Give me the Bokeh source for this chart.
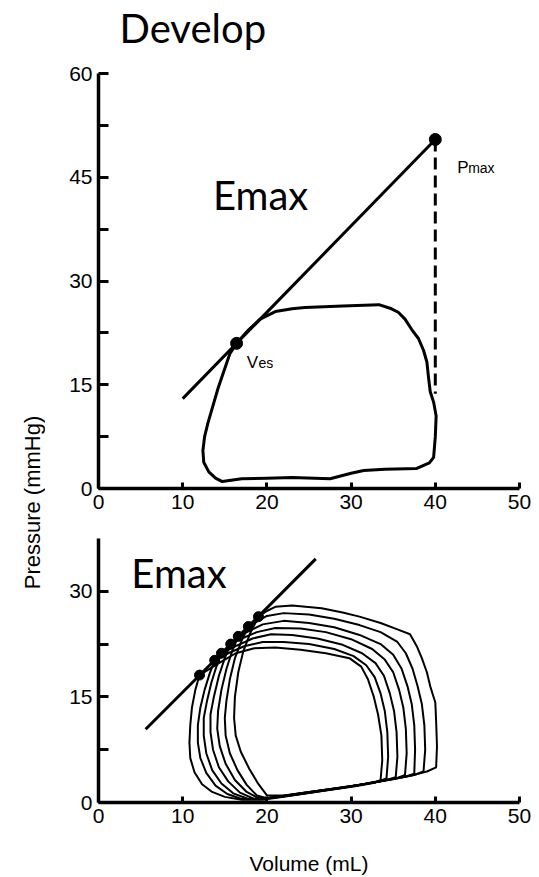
import math

from bokeh.embed import file_html
from bokeh.layouts import column, row
from bokeh.models import FixedTicker, Label, Range1d
from bokeh.plotting import figure
from bokeh.resources import INLINE

# ---------------- data ----------------
vol_ticks = [0, 10, 20, 30, 40, 50]

# Upper panel: one steady-state loop
top_p_ticks = [0, 15, 30, 45, 60]
top_p_minor = [7.5, 22.5, 37.5, 52.5]
top_loop_vol = [16.4, 15.6, 14.9, 14.2, 13.6, 13.0, 12.6, 12.4, 12.5, 13.1, 13.9, 14.7,
                17.0, 20.0, 23.0, 27.5, 30.0, 31.5, 34.0, 37.8, 39.3, 39.8, 40.0, 40.1,
                39.8, 39.4, 39.2, 39.0, 38.6, 38.0, 37.2, 36.4, 35.6, 34.8, 33.3, 29.0,
                24.5, 23.0, 21.0, 19.2, 17.7, 16.4]
top_loop_p = [21.0, 19.5, 17.0, 14.5, 12.0, 9.5, 7.5, 5.5, 3.8, 2.4, 1.5, 1.0,
              1.4, 1.5, 1.6, 1.4, 2.2, 2.6, 2.8, 2.9, 3.7, 4.5, 7.5, 10.5,
              12.5, 14.0, 16.0, 18.3, 20.0, 21.7, 23.0, 24.5, 25.5, 26.0, 26.6, 26.4,
              26.2, 26.0, 25.6, 24.5, 22.8, 21.0]
top_espvr_vol = [10.0, 40.0]
top_espvr_p = [13.0, 50.5]
ves_vol, ves_p = 16.4, 21.0
pmax_vol, pmax_p = 40.0, 50.5
pmax_drop_p = [50.5, 13.7]

# Lower panel: family of loops during preload reduction
bot_p_ticks = [0, 15, 30]
bot_p_minor = [7.5, 22.5]
bot_espvr_vol = [5.6, 25.8]
bot_espvr_p = [10.4, 34.6]
es_vol = [12.0, 13.8, 14.6, 15.7, 16.6, 17.8, 19.0]
es_p = [18.1, 20.2, 21.2, 22.5, 23.6, 25.0, 26.4]

loop1_vol = [19.0, 18.0, 17.2, 16.6, 16.2, 16.1, 16.3, 16.9, 17.9, 19.0, 20.0, 22.0, 25.0,
             29.0, 33.0, 37.0, 39.0, 40.1, 40.2, 40.1, 40.0, 39.4, 39.0, 38.4, 37.8, 37.0,
             35.5, 33.5, 31.0, 29.0, 26.5, 23.0, 21.0, 20.0, 19.0]
loop1_p = [26.4, 24.0, 21.5, 18.5, 15.0, 12.0, 9.5, 7.2, 4.8, 2.6, 1.0, 1.0, 1.5,
           2.1, 2.9, 3.8, 4.4, 5.0, 8.0, 11.5, 14.2, 16.5, 18.5, 20.5, 22.2, 23.9,
           24.6, 25.5, 26.4, 27.0, 27.6, 28.0, 27.8, 27.2, 26.4]
loop2_vol = [17.8, 17.0, 16.2, 15.6, 15.2, 15.0, 15.1, 15.6, 16.5, 17.6, 18.8, 20.0, 23.0,
             27.0, 31.0, 35.0, 37.5, 38.6, 38.8, 38.7, 38.4, 37.9, 37.3, 36.5, 35.5, 33.5,
             31.0, 28.0, 25.0, 22.0, 20.0, 18.8, 17.8]
loop2_p = [25.0, 23.0, 20.5, 17.5, 14.5, 12.0, 9.5, 7.0, 4.6, 2.5, 1.0, 0.6, 1.1,
           1.8, 2.5, 3.3, 3.9, 4.4, 7.5, 11.0, 14.0, 16.5, 19.0, 21.2, 22.8, 24.2,
           25.2, 26.1, 26.7, 26.9, 26.5, 25.7, 25.0]
loop3_vol = [16.6, 15.9, 15.2, 14.6, 14.2, 14.1, 14.4, 15.1, 16.2, 17.6, 19.0, 21.0, 25.0,
             29.0, 33.0, 36.5, 37.5, 37.6, 37.5, 37.2, 36.7, 36.0, 35.0, 33.5, 31.0, 28.0,
             25.0, 22.0, 19.5, 17.8, 16.6]
loop3_p = [23.6, 21.6, 19.0, 16.0, 13.0, 10.5, 8.0, 5.5, 3.2, 1.5, 0.6, 0.7, 1.4,
           2.1, 2.9, 3.7, 4.1, 7.5, 11.0, 14.0, 16.5, 19.0, 21.0, 22.5, 23.8, 24.9,
           25.5, 25.8, 25.3, 24.3, 23.6]
loop4_vol = [15.7, 15.0, 14.3, 13.7, 13.3, 13.3, 13.6, 14.3, 15.4, 16.8, 18.5, 21.0, 25.0,
             29.0, 33.0, 35.5, 36.4, 36.6, 36.5, 36.2, 35.7, 35.0, 34.0, 32.5, 30.0, 27.0,
             24.0, 21.0, 18.8, 17.0, 15.7]
loop4_p = [22.5, 20.5, 18.0, 15.0, 12.5, 10.0, 7.5, 5.0, 3.0, 1.4, 0.5, 0.7, 1.4,
           2.1, 2.9, 3.5, 3.9, 7.0, 10.5, 13.5, 16.0, 18.5, 20.3, 21.8, 23.2, 24.2,
           24.7, 24.8, 24.2, 23.3, 22.5]
loop5_vol = [14.6, 14.0, 13.4, 12.9, 12.5, 12.5, 12.8, 13.5, 14.6, 16.0, 17.8, 20.0, 24.0,
             28.0, 32.0, 34.5, 35.3, 35.5, 35.4, 35.1, 34.6, 33.9, 32.9, 31.3, 29.0, 26.0,
             23.0, 20.5, 18.3, 16.3, 14.6]
loop5_p = [21.2, 19.3, 17.0, 14.5, 12.0, 9.5, 7.0, 4.6, 2.7, 1.3, 0.5, 0.6, 1.3,
           2.0, 2.7, 3.3, 3.6, 6.5, 10.0, 13.0, 15.5, 18.0, 19.8, 21.2, 22.4, 23.3,
           23.8, 23.9, 23.3, 22.2, 21.2]
loop6_vol = [13.8, 13.2, 12.6, 12.1, 11.8, 11.8, 12.1, 12.8, 13.9, 15.3, 17.0, 19.5, 23.0,
             27.0, 31.0, 33.5, 34.2, 34.4, 34.3, 34.0, 33.5, 32.8, 31.8, 30.3, 28.0, 25.0,
             22.0, 19.5, 17.3, 15.4, 13.8]
loop6_p = [20.2, 18.3, 16.0, 13.5, 11.0, 8.5, 6.3, 4.2, 2.4, 1.2, 0.5, 0.5, 1.1,
           1.8, 2.5, 3.1, 3.4, 6.5, 10.0, 13.0, 15.5, 17.8, 19.5, 20.8, 21.8, 22.5,
           22.8, 22.8, 22.2, 21.2, 20.2]
loop7_vol = [12.0, 11.5, 11.1, 10.9, 10.8, 10.9, 11.4, 12.3, 13.5, 15.0, 17.0, 19.5, 23.0,
             27.0, 30.5, 32.8, 33.5, 33.7, 33.6, 33.2, 32.7, 32.0, 31.2, 29.8, 27.0, 24.0,
             21.0, 18.5, 16.3, 14.3, 12.0]
loop7_p = [18.1, 16.0, 13.5, 11.0, 8.5, 6.3, 4.3, 2.6, 1.5, 0.8, 0.4, 0.4, 1.0,
           1.7, 2.3, 2.8, 3.2, 6.0, 9.5, 12.5, 15.0, 17.5, 19.3, 20.5, 21.2, 21.7,
           22.0, 21.9, 21.2, 19.8, 18.1]

bot_loops = [(loop1_vol, loop1_p), (loop2_vol, loop2_p), (loop3_vol, loop3_p),
             (loop4_vol, loop4_p), (loop5_vol, loop5_p), (loop6_vol, loop6_p),
             (loop7_vol, loop7_p)]

# ---------------- styling helpers ----------------
TICK_FONT = "Liberation Sans"
HEAD_FONT = "Lato"
LEFT_STRIP = 45
PANEL_W = 539 - LEFT_STRIP


def style_axes(p, yticks, yminor):
    p.xaxis.ticker = FixedTicker(ticks=vol_ticks)
    p.yaxis.ticker = FixedTicker(ticks=yticks, minor_ticks=yminor)
    for ax in (p.xaxis[0], p.yaxis[0]):
        ax.axis_line_width = 3.5
        ax.axis_line_color = "black"
        ax.major_tick_line_width = 3
        ax.minor_tick_line_width = 3
        ax.major_tick_out = 0
        ax.minor_tick_out = 0
        ax.major_label_text_font = TICK_FONT
        ax.major_label_text_font_size = "21px"
        ax.major_label_text_color = "black"
        ax.major_label_standoff = 6
    p.xaxis.major_tick_in = 6
    p.xaxis.minor_tick_in = 0
    p.yaxis.major_tick_in = 10
    p.yaxis.minor_tick_in = 10
    p.grid.visible = False
    p.outline_line_color = None


def note(p, x, y, text, size, font=TICK_FONT):
    # y is the bottom of the text box
    p.add_layout(Label(x=x, y=y, text=text, text_font=font, text_font_size=size,
                       text_color="black", text_baseline="bottom"))


# ---------------- upper panel ----------------
# The frame runs up to the top of the canvas so the heading sits inside it;
# the pressure axis itself is bounded to 0-60.
TOP_H, TOP_BOTTOM = 520, 32
top_frame_h = TOP_H - TOP_BOTTOM
top_y_end = 60 * top_frame_h / (top_frame_h - 73.3)
top = figure(width=PANEL_W, height=TOP_H, x_range=Range1d(0, 50),
             y_range=Range1d(0, top_y_end),
             output_backend="svg", toolbar_location=None,
             min_border_left=53, min_border_right=20, min_border_top=0,
             min_border_bottom=TOP_BOTTOM)
style_axes(top, top_p_ticks, top_p_minor)
top.yaxis.bounds = (0, 60)

top.line(top_loop_vol, top_loop_p, line_width=3, color="black", line_join="round")
top.line(top_espvr_vol, top_espvr_p, line_width=3, color="black")
top.line([pmax_vol, pmax_vol], pmax_drop_p, line_width=3, color="black", line_dash="12 6")
top.scatter([ves_vol, pmax_vol], [ves_p, pmax_p], size=12, color="black")

note(top, 2.5, 63.1, "Develop", "40px", HEAD_FONT)
note(top, 13.6, 39.0, "Emax", "40px", HEAD_FONT)
note(top, 17.6, 16.9, "V", "17px")
note(top, 19.0, 17.0, "es", "14px")
note(top, 42.6, 45.1, "P", "17px")
note(top, 43.9, 45.2, "max", "14px")

# ---------------- lower panel ----------------
bot = figure(width=PANEL_W, height=357, x_range=Range1d(0, 50), y_range=Range1d(0, 37.5),
             output_backend="svg", toolbar_location=None,
             min_border_left=53, min_border_right=20, min_border_top=18, min_border_bottom=75)
style_axes(bot, bot_p_ticks, bot_p_minor)
bot.xaxis.axis_label = "Volume (mL)"
bot.xaxis.axis_label_text_font = TICK_FONT
bot.xaxis.axis_label_text_font_size = "21px"
bot.xaxis.axis_label_text_font_style = "normal"
bot.xaxis.axis_label_text_color = "black"
bot.xaxis.axis_label_standoff = 26

for lv, lp in bot_loops:
    bot.line(lv, lp, line_width=2, color="black", line_join="round")
bot.line(bot_espvr_vol, bot_espvr_p, line_width=3, color="black")
bot.scatter(es_vol, es_p, size=10, color="black")
note(bot, 3.9, 29.2, "Emax", "40px", HEAD_FONT)

# ---------------- shared pressure label ----------------
strip = figure(width=LEFT_STRIP, height=877, x_range=Range1d(0, LEFT_STRIP),
               y_range=Range1d(0, 877), output_backend="svg", toolbar_location=None,
               min_border=0, x_axis_location=None, y_axis_location=None)
strip.grid.visible = False
strip.outline_line_color = None
strip.add_layout(Label(x=32, y=877 - 502, text="Pressure (mmHg)", angle=math.pi / 2,
                       text_align="center", text_baseline="middle", text_font=TICK_FONT,
                       text_font_size="22px", text_color="black"))

layout = row(strip, column(top, bot, spacing=0), spacing=0)

with open("out.html", "w") as f:
    f.write(file_html(layout, INLINE))
